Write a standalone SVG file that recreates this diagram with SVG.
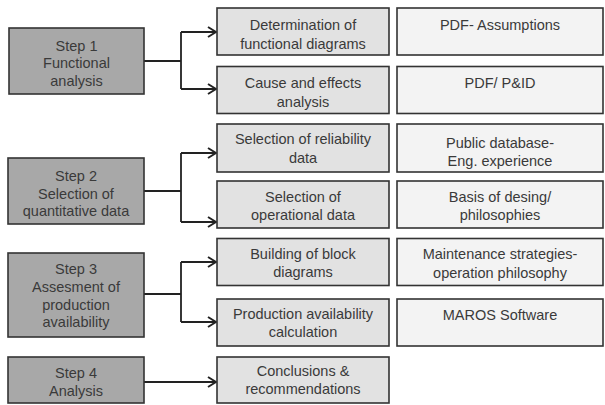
<svg xmlns="http://www.w3.org/2000/svg" width="605" height="405" viewBox="0 0 605 405">
<style>
text{font-family:"Liberation Sans",Arial,sans-serif;font-size:14.5px;fill:#3a3a3a;text-anchor:middle}
.step{fill:#a8a8a8;stroke:#333;stroke-width:1.6}
.mid{fill:#e2e2e2;stroke:#333;stroke-width:1.6}
.res{fill:#f3f3f3;stroke:#333;stroke-width:1.6}
.con{fill:none;stroke:#222;stroke-width:1.8}
</style>
<defs>
<marker id="ah" viewBox="0 0 10 12" refX="9" refY="6" markerWidth="10" markerHeight="12" markerUnits="userSpaceOnUse" orient="auto">
<path d="M1,1 L9,6 L1,11" fill="none" stroke="#222" stroke-width="2"/>
</marker>
</defs>
<rect width="605" height="405" fill="#fff"/>
<g id="connectors" class="con">
<path d="M144,61 H181 M181,32 V89"/>
<path d="M181,32 H216" marker-end="url(#ah)"/>
<path d="M181,89 H216" marker-end="url(#ah)"/>
<path d="M144,191 H181 M181,153 V222"/>
<path d="M181,153 H216" marker-end="url(#ah)"/>
<path d="M181,222 H216" marker-end="url(#ah)"/>
<path d="M144,294 H181 M181,262 V322"/>
<path d="M181,262 H216" marker-end="url(#ah)"/>
<path d="M181,322 H216" marker-end="url(#ah)"/>
<path d="M144,382 H216" marker-end="url(#ah)"/>
</g>
<g id="step1"><rect class="step" x="9" y="28" width="135" height="66"/>
<text x="76.5" y="50.5">Step 1</text><text x="76.5" y="68">Functional</text><text x="76.5" y="86">analysis</text></g>
<g id="step2"><rect class="step" x="8" y="158" width="136" height="66"/>
<text x="76" y="180.5">Step 2</text><text x="76" y="198.5">Selection of</text><text x="76" y="216">quantitative data</text></g>
<g id="step3"><rect class="step" x="8" y="253" width="136" height="84"/>
<text x="76" y="274">Step 3</text><text x="76" y="292">Assesment of</text><text x="76" y="310">production</text><text x="76" y="327">availability</text></g>
<g id="step4"><rect class="step" x="8" y="357" width="136" height="46"/>
<text x="76" y="378">Step 4</text><text x="76" y="396">Analysis</text></g>
<g id="m1"><rect class="mid" x="217" y="8" width="172" height="47"/>
<text x="303" y="29.5">Determination of</text><text x="303" y="49">functional diagrams</text></g>
<g id="m2"><rect class="mid" x="217" y="66.5" width="172" height="47"/>
<text x="303" y="87.5">Cause and effects</text><text x="303" y="107">analysis</text></g>
<g id="m3"><rect class="mid" x="217" y="124" width="172" height="48"/>
<text x="303" y="144">Selection of reliability</text><text x="303" y="163">data</text></g>
<g id="m4"><rect class="mid" x="217" y="181" width="172" height="47"/>
<text x="303" y="202">Selection of</text><text x="303" y="219.5">operational data</text></g>
<g id="m5"><rect class="mid" x="217" y="238.5" width="172" height="47"/>
<text x="303" y="258.5">Building of block</text><text x="303" y="277">diagrams</text></g>
<g id="m6"><rect class="mid" x="217" y="299" width="172" height="47"/>
<text x="303" y="319">Production availability</text><text x="303" y="337">calculation</text></g>
<g id="m7"><rect class="mid" x="217" y="357" width="172" height="46"/>
<text x="303" y="375.5">Conclusions &amp;</text><text x="303" y="393.5">recommendations</text></g>
<g id="r1"><rect class="res" x="397" y="8" width="206" height="47"/>
<text x="500" y="29.5">PDF- Assumptions</text></g>
<g id="r2"><rect class="res" x="397" y="66.5" width="206" height="47"/>
<text x="500" y="88">PDF/ P&amp;ID</text></g>
<g id="r3"><rect class="res" x="397" y="124" width="206" height="48"/>
<text x="500" y="148">Public database-</text><text x="500" y="165.5">Eng. experience</text></g>
<g id="r4"><rect class="res" x="397" y="181" width="206" height="47"/>
<text x="500" y="202">Basis of desing/</text><text x="500" y="220">philosophies</text></g>
<g id="r5"><rect class="res" x="397" y="238.5" width="206" height="47"/>
<text x="500" y="259">Maintenance strategies-</text><text x="500" y="278">operation philosophy</text></g>
<g id="r6"><rect class="res" x="397" y="299" width="206" height="47"/>
<text x="500" y="320">MAROS Software</text></g>
</svg>
